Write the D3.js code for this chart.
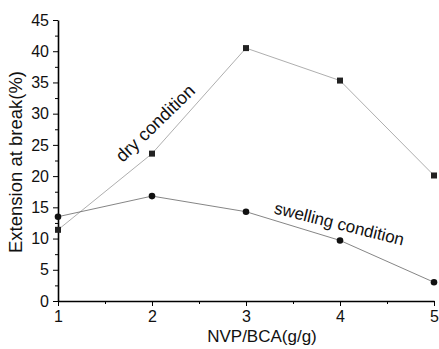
<!DOCTYPE html>
<html>
<head>
<meta charset="utf-8">
<script src="https://cdn.jsdelivr.net/npm/d3@7"></script>
<style>
  html, body { margin: 0; padding: 0; background: #fff; }
  svg { display: block; font-family: "Liberation Sans", Arial, sans-serif; }
</style>
</head>
<body>
<div id="chart"></div>
<script>
// NVP/BCA ratio (g/g)
const ratios = [1, 2, 3, 4, 5];
// extension at break (%)
const dryValues = [11.4, 23.6, 40.5, 35.3, 20.1];
const swellingValues = [13.5, 16.8, 14.3, 9.7, 3.0];
const xTicks = [1, 2, 3, 4, 5];
const yTicks = [0, 5, 10, 15, 20, 25, 30, 35, 40, 45];

const W = 439, H = 349;
const margin = { top: 20, right: 5, bottom: 48, left: 58 };
const iW = W - margin.left - margin.right;
const iH = H - margin.top - margin.bottom;

const svg = d3.select("#chart").append("svg")
  .attr("width", W).attr("height", H);
const g = svg.append("g")
  .attr("transform", `translate(${margin.left},${margin.top})`);

const x = d3.scaleLinear().domain([1, 5]).range([0, iW]);
const y = d3.scaleLinear().domain([0, 45]).range([iH, 0]);

// minor ticks
g.append("g")
  .attr("transform", `translate(0,${iH})`)
  .call(d3.axisBottom(x).tickValues([1.5, 2.5, 3.5, 4.5]).tickSize(3).tickFormat(""))
  .call(a => a.select(".domain").remove());
g.append("g")
  .call(d3.axisLeft(y).tickValues(d3.range(2.5, 45, 5)).tickSize(3).tickFormat(""))
  .call(a => a.select(".domain").remove());

// major axes
g.append("g")
  .attr("transform", `translate(0,${iH})`)
  .call(d3.axisBottom(x).tickValues(xTicks).tickSize(5).tickSizeOuter(0).tickPadding(5).tickFormat(d3.format("d")))
  .call(a => {
    a.select(".domain").attr("stroke-width", 1.6);
    a.selectAll("text").style("font-size", "16px").attr("fill", "#111");
  });
g.append("g")
  .call(d3.axisLeft(y).tickValues(yTicks).tickSize(5).tickSizeOuter(0).tickPadding(4))
  .call(a => {
    a.select(".domain").attr("stroke-width", 1.6);
    a.selectAll("text").style("font-size", "16px").attr("fill", "#111");
  });

const line = d3.line().x((d, i) => x(ratios[i])).y(d => y(d));

// dry condition
g.append("path").datum(dryValues)
  .attr("fill", "none").attr("stroke", "#999").attr("stroke-width", 0.8)
  .attr("d", line);
g.selectAll(".dry").data(dryValues).join("rect")
  .attr("x", (d, i) => x(ratios[i]) - 3).attr("y", d => y(d) - 3)
  .attr("width", 6).attr("height", 6).attr("fill", "#222");

// swelling condition
g.append("path").datum(swellingValues)
  .attr("fill", "none").attr("stroke", "#666").attr("stroke-width", 0.8)
  .attr("d", line);
g.selectAll(".swell").data(swellingValues).join("circle")
  .attr("cx", (d, i) => x(ratios[i])).attr("cy", d => y(d))
  .attr("r", 3.3).attr("fill", "#111");

// annotations
g.append("text")
  .attr("transform", `translate(${x(1.69)},${y(22.1)}) rotate(-44)`)
  .style("font-size", "18px").attr("fill", "#111")
  .text("dry condition");
g.append("text")
  .attr("transform", `translate(${x(3.29)},${y(14.05)}) rotate(14)`)
  .style("font-size", "17px").attr("fill", "#111")
  .text("swelling condition");

// axis labels
g.append("text")
  .attr("x", x(3.17)).attr("y", iH + 41)
  .attr("text-anchor", "middle")
  .style("font-size", "17px").attr("fill", "#111")
  .text("NVP/BCA(g/g)");
g.append("text")
  .attr("transform", "rotate(-90)")
  .attr("x", -(162 - margin.top)).attr("y", -36)
  .attr("text-anchor", "middle")
  .style("font-size", "18.5px").attr("fill", "#111")
  .text("Extension at break(%)");
</script>
</body>
</html>
